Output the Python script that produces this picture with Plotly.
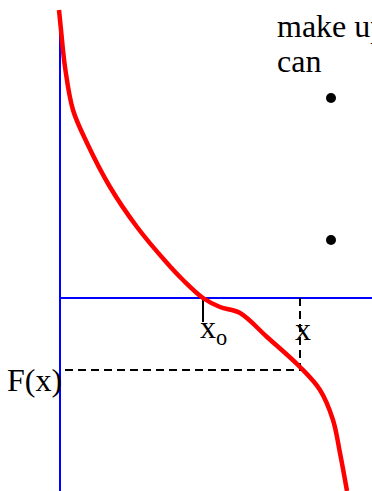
import plotly.graph_objects as go

# coordinates: origin where the two blue axes cross
curve_x = [-1, 1, 5, 13, 27, 50, 77, 107, 123, 143, 160, 180, 207, 240, 260, 273, 280, 287]
curve_y = [288, 268, 231, 188, 155, 111, 71, 35, 18, 0, -9, -15, -39, -69, -92, -122, -155, -193]

axis_v_x = [0, 0]
axis_v_y = [288, -193]
axis_h_x = [0, 312]
axis_h_y = [0, 0]

x0 = 143
x_pt = 240
fx = -72

bullet_x = [271, 271]
bullet_y = [200, 58]

serif = 'Liberation Serif, Times New Roman, serif'

fig = go.Figure()
fig.add_trace(go.Scatter(x=axis_v_x, y=axis_v_y, mode='lines',
                         line=dict(color='#0000ff', width=2), hoverinfo='none'))
fig.add_trace(go.Scatter(x=axis_h_x, y=axis_h_y, mode='lines',
                         line=dict(color='#0000ff', width=2), hoverinfo='none'))
# tick at x_o
fig.add_trace(go.Scatter(x=[x0, x0], y=[0, -24], mode='lines',
                         line=dict(color='black', width=2), hoverinfo='none'))
# dashed guide lines for x and F(x)
fig.add_trace(go.Scatter(x=[x_pt, x_pt, 2], y=[0, fx, fx], mode='lines',
                         line=dict(color='black', width=2, dash='8px,5px'),
                         hoverinfo='none'))
fig.add_trace(go.Scatter(x=curve_x, y=curve_y, mode='lines',
                         line=dict(color='#ff0000', width=4.5, shape='spline', smoothing=1),
                         hoverinfo='none'))
fig.add_trace(go.Scatter(x=bullet_x, y=bullet_y, mode='markers',
                         marker=dict(color='black', size=10), hoverinfo='none'))

txt = dict(family=serif, size=32, color='black')
fig.add_annotation(x=215, y=272, text='make up', showarrow=False,
                   xanchor='left', yanchor='middle', font=txt)
fig.add_annotation(x=215, y=237, text='can', showarrow=False,
                   xanchor='left', yanchor='middle', font=txt)
fig.add_annotation(x=x0 - 5, y=-31, text='x<sub>o</sub>', showarrow=False,
                   xanchor='left', yanchor='middle', font=txt)
fig.add_annotation(x=x_pt + 3, y=-31, text='x', showarrow=False,
                   xanchor='center', yanchor='middle', font=txt)
fig.add_annotation(x=4, y=-82, text='F(x)', showarrow=False,
                   xanchor='right', yanchor='middle', font=txt)

axis = dict(showline=False, zeroline=False, showgrid=False,
            showticklabels=False, fixedrange=True)
fig.update_layout(width=372, height=491, margin=dict(l=0, r=0, t=0, b=0),
                  paper_bgcolor='white', plot_bgcolor='white', showlegend=False,
                  xaxis=dict(axis, range=[-60, 312]),
                  yaxis=dict(axis, range=[-193, 298]))

fig.write_html("out.html", config={'displayModeBar': False},
               post_script="document.body.style.margin='0';")
